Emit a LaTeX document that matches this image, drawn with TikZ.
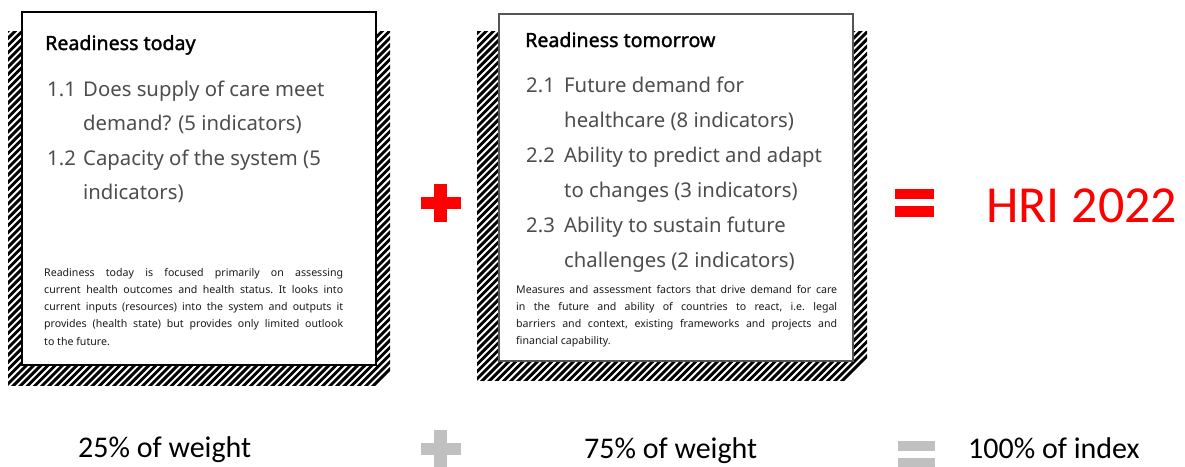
\documentclass[tikz,border=0pt]{standalone}
\usepackage{fontspec}
\setmainfont{Noto Sans}
\newfontfamily\headfont{Noto Sans}[FakeBold=1.6]
\newfontfamily\calfont{Carlito}
\definecolor{itemgray}{HTML}{4D4D4D}
\definecolor{bodyblack}{HTML}{1A1A1A}
\definecolor{hrired}{HTML}{FF0000}
\definecolor{signgray}{HTML}{C0C0C0}
\definecolor{framegray}{HTML}{555555}
\tikzset{
  hatchline/.style={line width=2.9pt, black},
  panel/.style={fill=white, draw=#1, line width=1.4pt},
  heading/.style={inner sep=0, anchor=base west, font=\headfont\fontsize{19.6}{24}\selectfont},
  itemtext/.style={inner sep=0, anchor=base west, text=itemgray, font=\fontsize{20.3}{24}\selectfont},
  bodytext/.style={inner sep=0, anchor=base west, text=bodyblack},
  weighttext/.style={inner sep=0, anchor=base west, font=\calfont\fontsize{30}{36}\selectfont},
}
\newcommand{\bodypar}[2]{\parbox[t]{#1pt}{\frenchspacing\fontsize{10.6}{17.3}\selectfont #2}}
\begin{document}
\begin{tikzpicture}[x=1pt,y=-1pt]
\useasboundingbox (0,0) rectangle (1185,466);

% ---- hatched backing of the first panel
\begin{scope}
  \clip (8,31) rectangle (390,385);
  \foreach \k in {0,...,100} {
    \draw[hatchline] ({8-360+\k*7.2},391) -- ++(366,-366);
  }
\end{scope}
\draw[panel=black] (22,12) rectangle (376,365);

% ---- hatched backing of the second panel
\begin{scope}
  \clip (477,31) rectangle (867,380);
  \foreach \k in {0,...,100} {
    \draw[hatchline] ({477-360+\k*7.2},386) -- ++(366,-366);
  }
\end{scope}
\draw[panel=framegray] (499,14) rectangle (853,361);

% ---- first panel text
\node[heading] (h1) at (45,50) {Readiness today};
\node[itemtext] (n11) at (47,96) {1.1};
\node[itemtext] (t11a) at (83,96) {Does supply of care meet};
\node[itemtext] (t11b) at (83,130) {demand? (5 indicators)};
\node[itemtext] (n12) at (47,165) {1.2};
\node[itemtext] (t12a) at (83,165) {Capacity of the system (5};
\node[itemtext] (t12b) at (83,199) {indicators)};
\node[bodytext] (b1) at (44,276) {\bodypar{299}{Readiness today is focused primarily on assessing\linebreak
current health outcomes and health status. It looks into\linebreak
current inputs (resources) into the system and outputs it\linebreak
provides (health state) but provides only limited outlook\linebreak
to the future.}};

% ---- second panel text
\node[heading] (h2) at (525,47) {Readiness tomorrow};
\node[itemtext] (n21) at (526,92) {2.1};
\node[itemtext] (t21a) at (564,92) {Future demand for};
\node[itemtext] (t21b) at (564,127) {healthcare (8 indicators)};
\node[itemtext] (n22) at (526,162) {2.2};
\node[itemtext] (t22a) at (564,162) {Ability to predict and adapt};
\node[itemtext] (t22b) at (564,197) {to changes (3 indicators)};
\node[itemtext] (n23) at (526,232) {2.3};
\node[itemtext] (t23a) at (564,232) {Ability to sustain future};
\node[itemtext] (t23b) at (564,267) {challenges (2 indicators)};
\node[bodytext] (b2) at (516,293) {\bodypar{321}{Measures and assessment factors that drive demand for care\linebreak
in the future and ability of countries to react, i.e. legal\linebreak
barriers and context, existing frameworks and projects and\linebreak
financial capability.}};

% ---- red operators and result
\fill[hrired] (434,184) rectangle (447,222);
\fill[hrired] (421,197) rectangle (461,209);
\fill[hrired] (895,189) rectangle (934,199);
\fill[hrired] (895,206) rectangle (934,217);
\node[inner sep=0, anchor=base west, text=hrired, font=\calfont\fontsize{52}{60}\selectfont] (hri) at (986,222) {HRI 2022};

% ---- weights row
\node[weighttext] (w1) at (78,457) {25\% of weight};
\fill[signgray] (434,430) rectangle (447,470);
\fill[signgray] (421,443) rectangle (461,455);
\node[weighttext] (w2) at (584,458) {75\% of weight};
\fill[signgray] (898,441) rectangle (935,451);
\fill[signgray] (898,458) rectangle (935,470);
\node[weighttext] (w3) at (968,458) {100\% of index};
\end{tikzpicture}
\end{document}
